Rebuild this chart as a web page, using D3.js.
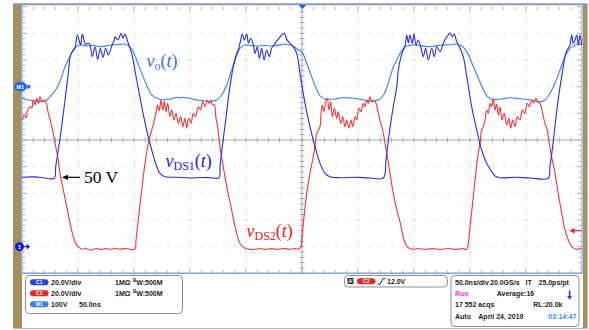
<!DOCTYPE html>
<html>
<head>
<meta charset="utf-8">
<script src="https://cdn.jsdelivr.net/npm/d3@7"></script>
<style>
  html, body { margin: 0; padding: 0; background: #fff; }
  svg { display: block; }
</style>
</head>
<body>
<svg id="scope" width="589" height="330"></svg>
<script>
// Scope capture: 50 ns/div horizontal, C1/C2 20 V/div, M1 100 V/div.
// Each trace is [time ns, volts].

const vds1 = [
  [0,52],[11.6,52.3],[20.5,51.5],[28.8,51.3],[30.1,60],[32.4,72.5],[35.4,90],[38.4,110],[41.3,130],[43.8,145],
  [45.8,147],[47.3,149],[49.4,158.8],[50.9,155],[52.4,151.3],[53.8,159.5],[55.4,155],[56.9,151.3],[58.9,152.8],[60.7,151.3],
  [62.8,142.5],[65.2,150],[67.6,140.5],[69.9,148.8],[72.3,142],[74.7,148.8],[77.1,143.8],[80.1,150.5],[82.4,155],[83,157.5],
  [85.7,155],[88.4,160],[90.2,156.5],[92,159.5],[94,155],[95.8,150],[97.9,145],[102.4,125],[106.9,105],[111.3,87.5],
  [115.8,72.5],[120.3,60],[123.2,55],[127.7,52.5],[138.1,52],[150,51.5],[158.9,51.9],[167.9,51.7],[175.9,51.7],[176.8,60],
  [178.8,75],[181.9,95],[184.8,115],[188.7,135],[191.7,145],[193.1,147.5],[194.6,152.5],[196.7,159.5],[198.5,155],[200.6,159.5],
  [202.2,152.8],[204.2,156.3],[206.5,151.3],[208,145],[210.1,150],[211.9,141.3],[214,148.8],[216.1,140],[218.5,147.5],[220.8,142.5],
  [222.9,148.8],[225.9,152.5],[229.5,156.3],[231.9,158.8],[234.2,160],[236.3,155.5],[239.3,152.5],[242.2,150],[245.3,145],[248.2,130],
  [252.7,107.5],[257.1,90],[261.6,75],[266.1,62.5],[270.5,55],[275,52.5],[283.9,51.7],[297.3,52],[310.7,51.5],[322.6,51.5],
  [325,65],[327.9,85],[331.5,105],[334.6,120],[336,132.5],[338.4,142.5],[340.4,147.5],[342,150.5],[343.5,158.8],[345,152.8],
  [346.4,158.8],[348.5,152.5],[350,159.5],[351.8,151.3],[353.8,155],[356,150],[358.3,142.5],[360.4,148.8],[362.8,140],[365.8,148.8],
  [368.1,142.5],[370.3,150],[373.2,146.3],[376.2,152.5],[378.3,156.3],[380.6,158.8],[382.1,160.5],[384.2,157.5],[386,159.5],[388.1,153.8],
  [391.1,148.8],[394,142.5],[397.1,127.5],[401.5,105],[406,87.5],[410.4,72.5],[414.9,62.5],[419.4,56.3],[422.3,53],[426.8,51.7],
  [440.2,52],[453.6,51.5],[469.9,51.3],[471.4,60],[473.8,75],[476.5,95],[479.5,115],[482.8,132.5],[484.8,142.5],[486.3,147],
  [487.8,149],[489.3,151.3],[490.8,158.8],[492.2,152.5],[493.8,155],[495.3,158.8],[496.7,151.3],[498.2,158.8],[499.7,151.3]
];

const vds2 = [
  [0,95],[2.1,98.8],[3.6,96.5],[5.1,102.5],[7.1,105],[8.7,104],[10.1,110],[11.6,106.3],[13.1,111.3],[14.6,107.5],
  [16.1,112.5],[17.6,108.8],[19,110],[21.2,108.8],[23.5,100],[25.9,92.5],[27.9,85],[29.5,77.5],[31.9,67.5],[33.9,55],
  [36.9,42.5],[39.9,30],[42.9,17.5],[45.8,7.5],[48.2,2],[50.3,0],[53.3,-2],[56.3,-1],[58.9,-2.1],[62.2,-2.5],
  [66.1,-1.4],[70.5,-2.1],[75,-1.5],[79.5,-2.1],[83,-1.2],[87.5,-2],[92.9,-1.4],[97.3,-2.1],[100.9,-2],[101.8,5],
  [103.8,20],[106.9,42.5],[109.8,62.5],[112.8,77.5],[114.9,85],[116.7,90],[118.1,95],[119.6,100.3],[121.2,106.3],[122.6,101.8],
  [124.1,110],[125.6,102.5],[127.1,108.8],[128.6,101.3],[130.1,107.5],[132.1,97.5],[133.7,102.5],[135.7,95],[137.5,100],[139.6,92.5],
  [141.7,97.5],[143.5,90],[145.5,96.3],[147,88.8],[148.8,96.3],[150.9,92.5],[152.9,100],[155,97.5],[157.4,105],[159.4,102.5],
  [161.3,108.8],[163.4,105],[165.4,110],[167,107.5],[168.8,110],[169.9,106.3],[171.7,106.3],[173,97.5],[174.7,90],[176.8,75],
  [179.7,60],[182.8,45],[186.6,30],[190.2,15],[194.6,2.5],[199.1,-1.2],[203.6,-2.1],[208,-2],[212.5,-1.4],[217,-2.1],
  [222.9,-1.5],[227.7,-2.1],[233,-1.4],[239.3,-2],[243.8,-1.5],[246.7,-2],[249.1,0],[250.3,10],[251.8,22.5],[254.2,40],
  [257.1,55],[259.5,65],[261.6,75],[263.1,85],[264.6,87.5],[266.1,90],[267,100],[268.1,106.3],[269.6,101.3],[271.2,108.8],
  [272.6,111.3],[274.1,102.5],[275.6,108.8],[277.1,97.5],[278.8,103.8],[281,96.3],[282.4,101.3],[284.6,92.5],[286.3,97.5],[288.4,90],
  [289.9,95],[292,88.8],[293.8,95],[295.3,90],[297.3,97.5],[298.8,95],[300.9,103.8],[302.7,101.3],[304.7,107.5],[306.3,105],
  [307.8,110],[309.2,107.5],[310.7,112.5],[312.5,108.8],[314.3,110],[316.1,107.5],[318.1,100],[319.6,95],[322.1,87.5],[324.1,77.5],
  [326.2,67.5],[328.6,55],[331.5,40],[334.6,27.5],[337.5,18.5],[341.1,5],[344.6,-0.6],[348.2,-2],[353.6,-1.4],[359.8,-2.1],
  [366.1,-1.5],[373.2,-2.1],[380.4,-1.4],[387.5,-2.1],[392.9,-1.5],[397.1,-2],[398.5,2.5],[400,15],[402,30],[404.5,50],
  [406.9,67.5],[408.9,77.5],[410.4,87.5],[411.9,90],[413.4,95],[414.9,102.5],[416.3,100],[417.9,107.5],[419.4,105],[420.8,111.3],
  [422.3,102.5],[423.8,107],[425.3,98.8],[426.8,105],[428.6,95],[430.4,100],[432.8,91.3],[434.6,96.3],[436.3,88.8],[438.1,95],
  [440.2,90],[442.2,97.5],[444.6,95],[446.7,102.5],[448.8,100],[451.2,107.5],[453.1,105],[455.1,110],[456.9,107.8],[458.7,111.3],
  [460.4,108.8],[462.5,107.5],[464.9,100],[466.9,92.5],[469,87.5],[470.8,77.5],[472.9,67.5],[475.9,55],[478.8,40],[481.9,25],
  [484.8,12.5],[487.8,5],[490.8,0],[495.3,-2],[498.8,-1.5],[500,-1.7]
];

const vo = [
  [0,-43.5],[5.6,-49.9],[11.6,-52.5],[17.6,-56.3],[22.1,-49.9],[26.5,-31.1],[31,-6],[35.4,37.5],[39,81.4],[42.9,112.5],
  [46.7,144],[51.8,156.4],[55.5,154],[59.2,152.6],[62,155],[65.2,154.5],[68,151],[71.2,150],[75,153],[78.6,156.4],
  [84,157.5],[90.4,160],[94,156],[96.4,150],[99.4,131.3],[102.4,100],[106.9,50],[111.3,6.4],[115.8,-31.1],[120.3,-43.5],
  [126.2,-49.9],[129,-46],[132.1,-47.3],[135,-43],[138.1,-39.8],[141,-42],[144,-39.8],[147,-42.5],[150,-43.5],[153,-47],
  [155.9,-49.9],[159,-51],[161.9,-53.6],[165,-54],[167.9,-56.3],[171,-53],[173.8,-49.9],[178.3,-31.1],[182.8,6.4],[187.2,62.6],
  [190.8,106.5],[194.6,144],[199.1,156.4],[205,154],[211,152.6],[217,154.5],[222.9,152.6],[229,156],[234.8,160],[238.5,157],
  [242.2,152.6],[246.7,137.6],[250,131],[252.7,105],[257.1,55],[261.6,5],[266.1,-34],[270.5,-47.3],[273,-46],[278,-47.3],
  [282,-44],[286.9,-41.3],[291,-42],[295.8,-43.5],[300,-46],[304.7,-49.9],[308,-52],[312.2,-54.8],[315,-53],[318.1,-49.9],
  [322.3,-35],[325.6,-5],[328.6,36],[331.5,74],[334.6,100],[337.5,125],[342,150],[346,155],[351.8,156.4],[357,153],
  [363.8,150],[369,153],[375.6,156.4],[381,157],[387.5,160],[390.5,156],[393.5,150],[397.9,125],[402.4,81.4],[406.9,37.5],
  [411.3,-6],[415.8,-37.5],[420.3,-49.9],[423.5,-47],[426.8,-47.3],[431,-44],[435.7,-41.3],[440,-43],[444.6,-45],[449,-47],
  [453.6,-49.9],[458,-53],[462.5,-56.3],[467,-49.9],[471.4,-24.8],[475.9,12.8],[480.4,62.6],[484.8,112.5],[489.3,144],[493.8,156.4],
  [497,158],[500,160]
];

// readout rows
const leftRows = [
  { tag: "C1", color: "#2a3fe4", cols: ["20.0V/div", "1MΩ", "W:500M"] },
  { tag: "C2", color: "#e32a2a", cols: ["20.0V/div", "1MΩ", "W:500M"] },
  { tag: "M1", color: "#3a7ee8", cols: ["100V", "50.0ns"] }
];
const triggerLevel = 12.0;
const rightRows = [
  ["50.0ns/div", "20.0GS/s", "IT", "25.0ps/pt"],
  ["Run", "Average:16"],
  ["17 552 acqs", "RL:20.0k"],
  ["Auto", "April 24, 2019", "03:14:47"]
];

const svg = d3.select("#scope");
const W = 589, H = 330;
const gLeft = 22, gRight = 582, gTop = 6.7, gBottom = 273.3;

svg.append("rect").attr("width", W).attr("height", H).attr("fill", "#fff");

const x = d3.scaleLinear().domain([0, 500]).range([gLeft, gRight]);
const yCh = d3.scaleLinear().domain([-20, 180]).range([gBottom, gTop]);   // C1, C2 at 20 V/div
const yM1 = d3.scaleLinear().domain([-700, 300]).range([gBottom, gTop]);  // M1 at 100 V/div

const xMajor = d3.range(0, 501, 50);
const xMinor = d3.range(0, 501, 10);
const yMajor = d3.range(-20, 181, 20);
const yMinor = d3.range(-20, 181, 4);

// side bars and frame
svg.append("rect").attr("x", 13).attr("y", 4).attr("width", 9).attr("height", 325).attr("fill", "#a68f5e");
svg.append("rect").attr("x", 583).attr("y", 4).attr("width", 4.5).attr("height", 325).attr("fill", "#a68f5e");
svg.append("line").attr("x1", 13).attr("x2", 587.5).attr("y1", 4.3).attr("y2", 4.3)
  .attr("stroke", "#8b9ab4").attr("stroke-width", 2);
svg.append("line").attr("x1", 13).attr("x2", 587.5).attr("y1", 328.5).attr("y2", 328.5)
  .attr("stroke", "#b8b8b8").attr("stroke-width", 1);

const grid = svg.append("g");

// dotted graticule
grid.selectAll(".vdot").data(xMajor.filter(d => d !== 0 && d !== 250 && d !== 500)).join("line")
  .attr("x1", d => x(d)).attr("x2", d => x(d))
  .attr("y1", gTop).attr("y2", gBottom)
  .attr("stroke", "#b4b4b4").attr("stroke-width", 1)
  .attr("stroke-dasharray", "1 4.333");
grid.selectAll(".hdot").data(yMajor.filter(d => d !== -20 && d !== 80 && d !== 180)).join("line")
  .attr("x1", gLeft).attr("x2", gRight)
  .attr("y1", d => yCh(d)).attr("y2", d => yCh(d))
  .attr("stroke", "#b4b4b4").attr("stroke-width", 1)
  .attr("stroke-dasharray", "1 10.2");

// centre cross with minor ticks
const cx = x(250), cy = yCh(80);
grid.append("line").attr("x1", gLeft).attr("x2", gRight).attr("y1", cy).attr("y2", cy)
  .attr("stroke", "#a3abb8").attr("stroke-width", 1);
grid.append("line").attr("x1", cx).attr("x2", cx).attr("y1", gTop).attr("y2", gBottom)
  .attr("stroke", "#a3abb8").attr("stroke-width", 1);
grid.selectAll(".ctx").data(xMinor).join("line")
  .attr("x1", d => x(d)).attr("x2", d => x(d)).attr("y1", cy - 2.5).attr("y2", cy + 2.5)
  .attr("stroke", "#a3abb8");
grid.selectAll(".cty").data(yMinor).join("line")
  .attr("x1", cx - 2.5).attr("x2", cx + 2.5).attr("y1", d => yCh(d)).attr("y2", d => yCh(d))
  .attr("stroke", "#a3abb8");

// edge ticks
grid.selectAll(".ebx").data(xMinor).join("line")
  .attr("x1", d => x(d)).attr("x2", d => x(d))
  .attr("y1", gBottom).attr("y2", d => gBottom - (d % 50 === 0 ? 5 : 3))
  .attr("stroke", "#8fb0e0");
grid.selectAll(".etx").data(xMinor).join("line")
  .attr("x1", d => x(d)).attr("x2", d => x(d))
  .attr("y1", gTop).attr("y2", d => gTop + (d % 50 === 0 ? 5 : 3))
  .attr("stroke", "#a9b6c8");
grid.selectAll(".ely").data(yMinor).join("line")
  .attr("x1", gLeft).attr("x2", d => gLeft + (d % 20 === 0 ? 5 : 3))
  .attr("y1", d => yCh(d)).attr("y2", d => yCh(d))
  .attr("stroke", "#8fb0e0");
grid.selectAll(".ery").data(yMinor).join("line")
  .attr("x1", gRight).attr("x2", d => gRight - (d % 20 === 0 ? 5 : 3))
  .attr("y1", d => yCh(d)).attr("y2", d => yCh(d))
  .attr("stroke", "#8fb0e0");

grid.append("line").attr("x1", gLeft).attr("x2", gLeft).attr("y1", gTop - 1).attr("y2", gBottom)
  .attr("stroke", "#9ebde8").attr("stroke-width", 1.5);
grid.append("line").attr("x1", gRight).attr("x2", gRight).attr("y1", gTop - 1).attr("y2", gBottom)
  .attr("stroke", "#9ebde8").attr("stroke-width", 1.5);
grid.append("line").attr("x1", gLeft).attr("x2", gRight).attr("y1", gBottom).attr("y2", gBottom)
  .attr("stroke", "#7ea6e2").attr("stroke-width", 1.5);

// traces
const lineCh = d3.line().x(d => x(d[0])).y(d => yCh(d[1])).curve(d3.curveCatmullRom.alpha(0.5));
const lineM1 = d3.line().x(d => x(d[0])).y(d => yM1(d[1])).curve(d3.curveCatmullRom.alpha(0.5));

const traces = svg.append("g").attr("fill", "none").attr("stroke-width", 1.1)
  .attr("stroke-linejoin", "round");
traces.append("path").datum(vo).attr("stroke", "#3d7ef0").attr("d", lineM1);
traces.append("path").datum(vds2).attr("stroke", "#f03636").attr("d", lineCh);
traces.append("path").datum(vds1).attr("stroke", "#2b2be8").attr("d", lineCh);

// channel markers
const m1y = yM1(0);
svg.append("ellipse").attr("cx", 20.5).attr("cy", m1y).attr("rx", 6.5).attr("ry", 4.8).attr("fill", "#1f62ee");
svg.append("text").attr("x", 20.3).attr("y", m1y + 2).attr("text-anchor", "middle")
  .attr("font-family", "Liberation Sans, Arial, sans-serif").attr("font-size", 5.5).attr("font-weight", "bold")
  .attr("fill", "#fff").text("M1");
svg.append("path").attr("d", `M26.5,${m1y}h2M28,${m1y - 2}l2.5,2l-2.5,2z`).attr("stroke", "#1f62ee").attr("fill", "#1f62ee");

const c1y = yCh(0);
svg.append("circle").attr("cx", 19.5).attr("cy", c1y).attr("r", 4.5).attr("fill", "#1212e6");
svg.append("text").attr("x", 19.5).attr("y", c1y + 2).attr("text-anchor", "middle")
  .attr("font-family", "Liberation Sans, Arial, sans-serif").attr("font-size", 6).attr("font-weight", "bold")
  .attr("fill", "#fff").text("1");
svg.append("path").attr("d", `M24,${c1y}h3.5M27,${c1y - 2}l2.5,2l-2.5,2z`).attr("stroke", "#1212e6").attr("fill", "#1212e6");

// trigger level (C2) on the right edge and trigger position on top
const ty = yCh(triggerLevel);
svg.append("path").attr("d", `M574,${ty}H582`).attr("stroke", "#f02a2a").attr("stroke-width", 1.2);
svg.append("path").attr("d", `M569.5,${ty}l5,-3v6z`).attr("fill", "#f02a2a");
svg.append("path").attr("d", `M${cx - 3},5h7l-3.5,4z`).attr("fill", "#1a56e8");

// annotations
const serif = "Liberation Serif, Times New Roman, serif";
function waveLabel(px, py, sub, color) {
  const t = svg.append("text").attr("x", px).attr("y", py)
    .attr("font-family", serif).attr("font-size", 18).attr("fill", color);
  t.append("tspan").attr("font-style", "italic").text("v");
  t.append("tspan").attr("font-size", 12).attr("dy", 3).text(sub);
  t.append("tspan").attr("dy", -3).text("(");
  t.append("tspan").attr("font-style", "italic").text("t");
  t.append("tspan").text(")");
}
waveLabel(146.5, 66.5, "o", "#3a72e6");
waveLabel(165.5, 166.5, "DS1", "#1f1fd6");
waveLabel(246.5, 236.5, "DS2", "#e82222");

const ay = yCh(52);
svg.append("line").attr("x1", 66).attr("x2", 80).attr("y1", ay).attr("y2", ay)
  .attr("stroke", "#000").attr("stroke-width", 1.2);
svg.append("path").attr("d", `M62,${ay}l6,-2.6v5.2z`).attr("fill", "#000");
svg.append("text").attr("x", 84).attr("y", 183.3).attr("font-family", serif)
  .attr("font-size", 17.5).attr("fill", "#000").text("50 V");

// readout panels
const sans = "Liberation Sans, Arial, sans-serif";
const panel = svg.append("g").attr("font-family", sans).attr("font-size", 7)
  .attr("font-weight", "bold").attr("fill", "#222");

function box(px, py, w, h) {
  panel.append("rect").attr("x", px).attr("y", py).attr("width", w).attr("height", h)
    .attr("rx", 4).attr("fill", "#fff").attr("stroke", "#8c8c8c").attr("stroke-width", 1);
}
function pill(px, py, label, color) {
  panel.append("rect").attr("x", px).attr("y", py - 3).attr("width", 18.5).attr("height", 6)
    .attr("rx", 3).attr("fill", color);
  panel.append("text").attr("x", px + 9.25).attr("y", py + 1.7).attr("text-anchor", "middle")
    .attr("font-size", 5).attr("fill", "#fff").text(label);
}

box(25.5, 275.5, 157, 38);
leftRows.forEach((r, i) => {
  const base = 284.6 + i * 11;
  pill(30, base - 2.3, r.tag, r.color);
  panel.append("text").attr("x", 51).attr("y", base).text(r.cols[0]);
  if (r.cols.length === 3) {
    panel.append("text").attr("x", 115).attr("y", base).text(r.cols[1]);
    const bw = panel.append("text").attr("x", 133).attr("y", base);
    bw.append("tspan").attr("font-size", 4.5).attr("dy", -3).text("B");
    bw.append("tspan").attr("dy", 3).text(r.cols[2]);
  } else {
    panel.append("text").attr("x", 79).attr("y", base).text(r.cols[1]);
  }
});

box(344.5, 275.5, 103, 11.5);
panel.append("rect").attr("x", 347.5).attr("y", 278).attr("width", 6).attr("height", 6).attr("fill", "#1d2b4a");
panel.append("text").attr("x", 348.3).attr("y", 283.3).attr("font-size", 5.5).attr("fill", "#fff").text("A'");
pill(357, 281.2, "C2", "#e32a2a");
panel.append("path").attr("d", "M377.5,284.2h2.5l3,-5.5h2.5").attr("fill", "none").attr("stroke", "#222").attr("stroke-width", 1);
panel.append("text").attr("x", 387).attr("y", 284.4).text(triggerLevel.toFixed(1) + "V");

box(451, 275.5, 128, 51);
const rx0 = [
  [455, 490, 525.5, 538.5],
  [455, 496.7],
  [455, 533.3],
  [455, 478.3, 548.3]
];
const rowY = [284.6, 295.8, 306.7, 319.1];
rightRows.forEach((r, i) => {
  r.forEach((s, j) => {
    let fill = "#222";
    if (i === 1 && j === 0) fill = "#e235e0";
    if (i === 3 && j === 2) fill = "#3a8ce6";
    panel.append("text").attr("x", rx0[i][j]).attr("y", rowY[i]).attr("fill", fill).text(s);
  });
});
panel.append("path").attr("d", "M568.8,290.5h1.6v5.5h1.6l-2.4,3.8l-2.4,-3.8h1.6z").attr("fill", "#1b3fe0");
</script>
</body>
</html>
